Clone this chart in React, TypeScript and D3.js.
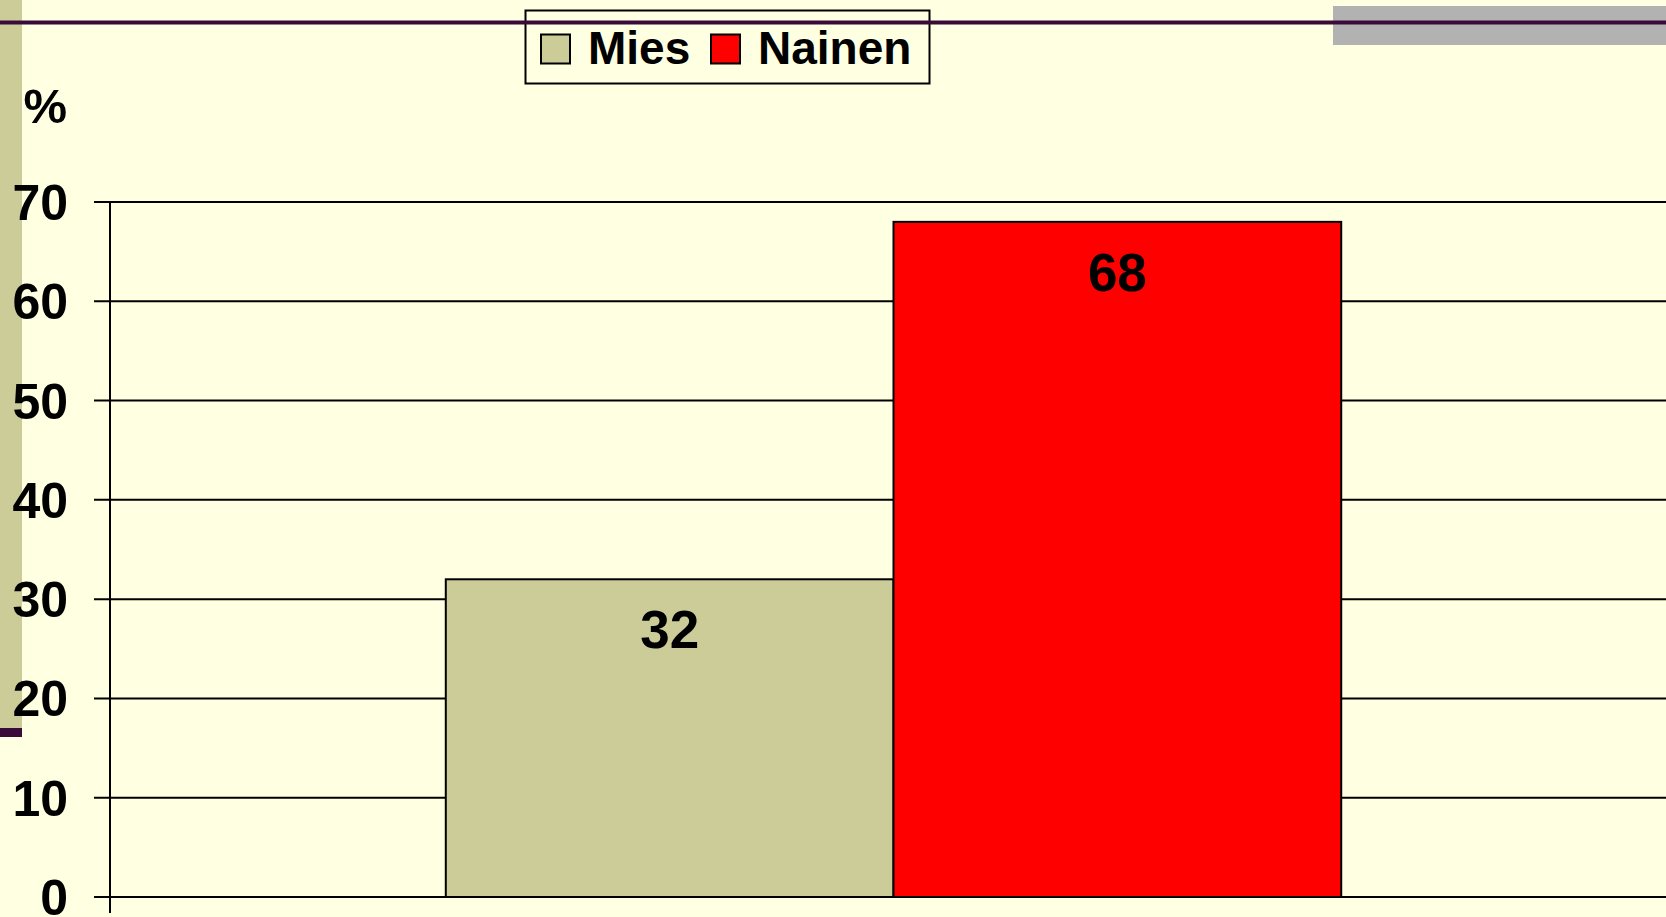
import React, { useEffect, useRef } from "react";
import * as d3 from "d3";

// data
const series = ["Mies", "Nainen"];
const values = [32, 68];
const colors = ["#cccc99", "#ff0000"];
const yTicks = [0, 10, 20, 30, 40, 50, 60, 70];

const W = 1666;
const H = 917;
const FONT = "'Liberation Sans', Arial, sans-serif";

export default function App() {
  const ref = useRef<SVGSVGElement>(null);

  useEffect(() => {
    const svg = d3.select(ref.current);
    svg.selectAll("*").remove();

    // background
    svg.append("rect").attr("width", W).attr("height", H).attr("fill", "#ffffe1");

    // slide decorations
    svg.append("rect").attr("x", 0).attr("y", 0).attr("width", 22).attr("height", 728).attr("fill", "#cccc99");
    svg.append("rect").attr("x", 0).attr("y", 728).attr("width", 22).attr("height", 9).attr("fill", "#3a0a3a");
    svg.append("rect").attr("x", 1333).attr("y", 6).attr("width", W - 1333).attr("height", 39).attr("fill", "#b2b2b2");

    // scales
    const y = d3.scaleLinear().domain([0, 70]).range([897, 202]);
    const x = d3.scaleBand().domain(series).range([110, 1677]).paddingInner(0).paddingOuter(0.75);

    const g = svg.append("g");

    // gridlines + ticks
    g.selectAll(".grid")
      .data(yTicks)
      .join("line")
      .attr("class", "grid")
      .attr("x1", 94)
      .attr("x2", W)
      .attr("y1", (d) => y(d))
      .attr("y2", (d) => y(d))
      .attr("stroke", "#000")
      .attr("stroke-width", 2);

    // y labels
    g.selectAll(".ylab")
      .data(yTicks)
      .join("text")
      .attr("class", "ylab")
      .attr("x", 68)
      .attr("y", (d) => y(d))
      .attr("dy", "0.36em")
      .attr("text-anchor", "end")
      .attr("font-family", FONT)
      .attr("font-weight", "bold")
      .attr("font-size", 50)
      .attr("fill", "#000")
      .text((d) => d);

    g.append("text")
      .attr("x", 67)
      .attr("y", 123)
      .attr("text-anchor", "end")
      .attr("font-family", FONT)
      .attr("font-weight", "bold")
      .attr("font-size", 49)
      .text("%");

    // bars
    g.selectAll(".bar")
      .data(values)
      .join("rect")
      .attr("class", "bar")
      .attr("x", (d, i) => x(series[i]) as number)
      .attr("y", (d) => y(d))
      .attr("width", x.bandwidth())
      .attr("height", (d) => y(0) - y(d))
      .attr("fill", (d, i) => colors[i])
      .attr("stroke", "#000")
      .attr("stroke-width", 2);

    // value labels
    g.selectAll(".vlab")
      .data(values)
      .join("text")
      .attr("class", "vlab")
      .attr("x", (d, i) => (x(series[i]) as number) + x.bandwidth() / 2)
      .attr("y", (d) => y(d) + 50)
      .attr("dy", "0.36em")
      .attr("text-anchor", "middle")
      .attr("font-family", FONT)
      .attr("font-weight", "bold")
      .attr("font-size", 53)
      .attr("fill", "#000")
      .text((d) => d);

    // y axis line
    g.append("line")
      .attr("x1", 110)
      .attr("x2", 110)
      .attr("y1", y(70))
      .attr("y2", 913)
      .attr("stroke", "#000")
      .attr("stroke-width", 2);

    // legend
    const lg = svg.append("g");
    lg.append("rect")
      .attr("x", 525.5)
      .attr("y", 10.5)
      .attr("width", 404)
      .attr("height", 73)
      .attr("fill", "none")
      .attr("stroke", "#000")
      .attr("stroke-width", 2);
    const swatchX = [541, 711];
    const textX = [588, 758];
    series.forEach((s, i) => {
      lg.append("rect")
        .attr("x", swatchX[i])
        .attr("y", 34.5)
        .attr("width", 29)
        .attr("height", 29)
        .attr("fill", colors[i])
        .attr("stroke", "#000")
        .attr("stroke-width", 2);
      lg.append("text")
        .attr("x", textX[i])
        .attr("y", 64)
        .attr("font-family", FONT)
        .attr("font-weight", "bold")
        .attr("font-size", 46)
        .text(s);
    });

    // top rule
    svg.append("line")
      .attr("x1", 0)
      .attr("x2", W)
      .attr("y1", 22.5)
      .attr("y2", 22.5)
      .attr("stroke", "#3a0a3a")
      .attr("stroke-width", 4);
  }, []);

  return (
    <svg
      ref={ref}
      width={W}
      height={H}
      style={{ position: "absolute", left: 0, top: 0, display: "block" }}
    />
  );
}
